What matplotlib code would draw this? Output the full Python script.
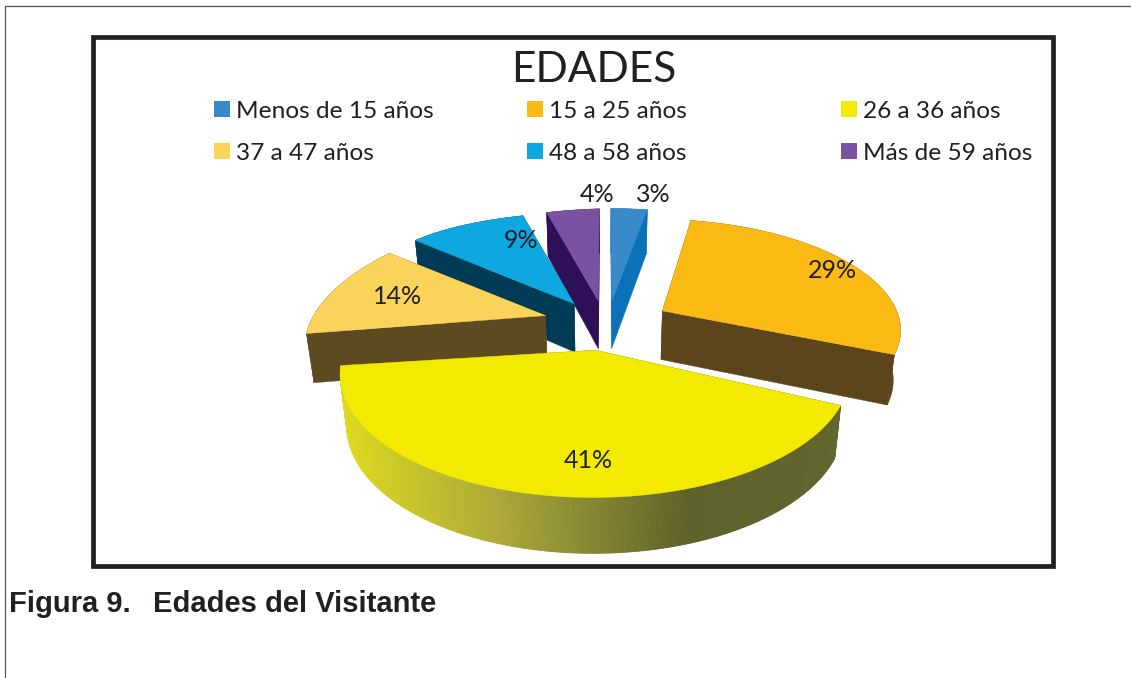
import numpy as np
import matplotlib
matplotlib.use("Agg")
import matplotlib.pyplot as plt
from matplotlib.patches import Rectangle, Polygon
from matplotlib.colors import to_rgb

# data
categories = ["Menos de 15 años", "15 a 25 años", "26 a 36 años",
              "37 a 47 años", "48 a 58 años", "Más de 59 años"]
values = [3, 29, 41, 14, 9, 4]
title = "EDADES"
caption_num = "Figura 9."
caption_txt = "Edades del Visitante"

# styles
top_colors = ["#3a89c9", "#fbba13", "#f2ea00", "#fad45a", "#0ea7e0", "#7953a1"]
wall_colors = ["#0b72ba", "#5c441b", "#5c5f2a", "#5e4a20", "#003b56", "#2e1056"]
grad_stops = [(344, "#dcd91f"), (500, "#aaa838"), (690, "#5e6029"), (845, "#62662f")]
draw_order = [5, 0, 4, 1, 3, 2]
label_xy = [(653, 194), (832, 270), (588, 460), (398, 296), (521, 240), (597, 194)]
legend_x = [214, 527, 841]
legend_y = [109, 151]
text_col = "#231f20"

# projection geometry (pixel frame)
CX, CY = 606, 320
A, B, K = 238, 108, 0.181
EXPLODE, DEPTH = 0.27, 49


def project(u, w, drop=False, warp=1.0, warp_x=1.0):
    s = 1 / (1 - K * w)
    x = CX + A * u * s
    y = CY + B * w * s
    # the left-hand back of the original pie sits slightly lower and further out
    if x < CX:
        t = min((CX - x) / 300, 1.0)
        y += 9 * t * warp
        x -= 15 * np.sin(np.pi * t) ** 2 * warp * warp_x
    if drop:
        x = CX + (x - CX) * 0.975
        y = y + DEPTH * s ** 0.5
    return x, y


fig = plt.figure(figsize=(11.31, 6.78), dpi=100)
ax = fig.add_axes([0, 0, 1, 1])
ax.set_xlim(0, 1131)
ax.set_ylim(678, 0)
ax.axis("off")

# page rule and chart frame
ax.plot([5, 5, 1131], [678, 5.5, 5.5], color="#555555", lw=0.9)
ax.add_patch(Rectangle((92.5, 36.5), 960.5, 529.5, fill=False, ec="#231f20", lw=3.4))

total = sum(values)
edges = np.cumsum([0] + values) / total * 2 * np.pi


def grad_color(x):
    xs = [p[0] for p in grad_stops]
    cs = np.array([to_rgb(p[1]) for p in grad_stops])
    return tuple(np.interp(x, xs, cs[:, i]) for i in range(3))


for i in draw_order:
    t0, t1 = edges[i], edges[i + 1]
    mid = (t0 + t1) / 2
    eu, ew = EXPLODE * np.sin(mid), -EXPLODE * np.cos(mid)
    th = np.linspace(t0, t1, max(4, int(3 * np.degrees(t1 - t0))))
    us = eu + np.sin(th)
    ws = ew - np.cos(th)
    wp = 0.0 if i == 2 else 1.0
    top_rim = [project(u, w, False, wp) for u, w in zip(us, ws)]
    low_rim = [project(u, w, True, wp) for u, w in zip(us, ws)]
    apex_w = ew * 0.7 if ew < 0 else ew
    apex_t = project(eu, apex_w, False, wp, 0.0)
    apex_b = project(eu, apex_w, True, wp, 0.0)
    wall = wall_colors[i]
    # radial walls
    for a, b in ((top_rim[0], low_rim[0]), (top_rim[-1], low_rim[-1])):
        ax.add_patch(Polygon([apex_t, a, b, apex_b], fc=wall, ec=wall, lw=0.3))
    # outer wall
    if i == 2:
        for k in range(len(th) - 1):
            q = [top_rim[k], top_rim[k + 1], low_rim[k + 1], low_rim[k]]
            c = grad_color((q[0][0] + q[1][0]) / 2)
            ax.add_patch(Polygon(q, fc=c, ec=c, lw=0.6))
    else:
        ax.add_patch(Polygon(top_rim + low_rim[::-1], fc=wall, ec=wall, lw=0.3))
    # top face
    ax.add_patch(Polygon([apex_t] + top_rim, fc=top_colors[i], ec=top_colors[i], lw=0.3))

# labels
for v, (lx, ly) in zip(values, label_xy):
    ax.text(lx, ly, f"{v}%", ha="center", va="center", family="Lato",
            fontsize=18, color=text_col)

# title
ax.text(594, 70, title, ha="center", va="center", family="Lato",
        fontsize=30.5, color=text_col)

# legend
for i, name in enumerate(categories):
    lx = legend_x[i % 3]
    ly = legend_y[i // 3]
    ax.add_patch(Rectangle((lx, ly - 8), 16, 16, fc=top_colors[i], ec="none"))
    ax.text(lx + 22, ly + 2, name, ha="left", va="center", family="Lato",
            fontsize=17.6, color=text_col)

# caption
ax.text(9, 604, caption_num, ha="left", va="center", family="Liberation Sans",
        weight="bold", fontsize=21, color=text_col)
ax.text(153, 604, caption_txt, ha="left", va="center", family="Liberation Sans",
        weight="bold", fontsize=21, color=text_col)

fig.savefig("out.png", dpi=100)
